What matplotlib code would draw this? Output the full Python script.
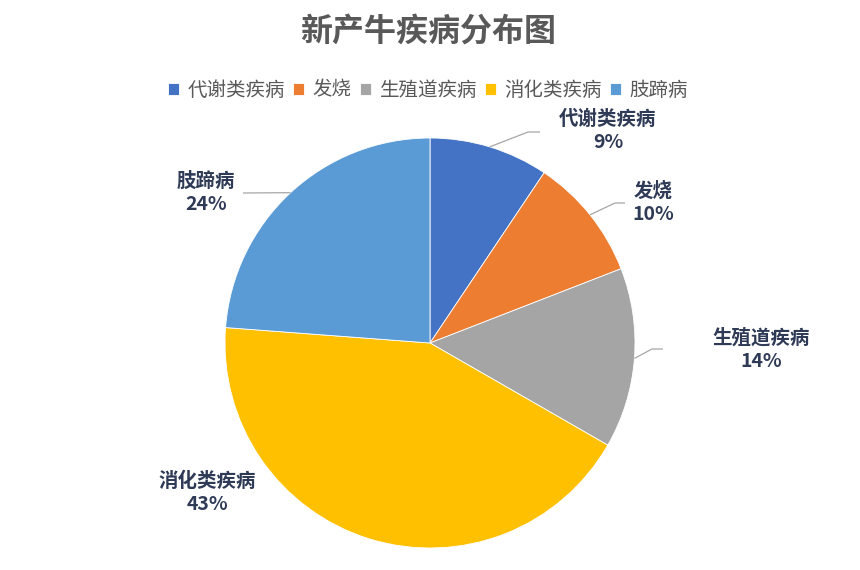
import numpy as np
import matplotlib
matplotlib.use('Agg')
import matplotlib.pyplot as plt

plt.rcParams['font.family'] = ['Noto Sans CJK SC', 'DejaVu Sans']

# data (percent of cases)
categories = ['代谢类疾病', '发烧', '生殖道疾病', '消化类疾病', '肢蹄病']
shares = [9.4, 9.7, 14.2, 42.9, 23.8]
colors = ['#4472C4', '#ED7D31', '#A5A5A5', '#FFC000', '#5B9BD5']

W, H = 860, 570
label_color = '#2E3A56'

fig = plt.figure(figsize=(W / 100, H / 100), dpi=100)
ax = fig.add_axes([0, 0, 1, 1])

cx, cy, r = 430, H - 343, 205
wedges, _ = ax.pie(shares, colors=colors, startangle=90, counterclock=False,
                   radius=r, center=(cx, cy),
                   wedgeprops=dict(edgecolor='white', linewidth=0.6))
ax.set_xlim(0, W)
ax.set_ylim(0, H)
ax.set_aspect('equal')
ax.axis('off')

# label centres and leader elbows (pixel coords from top-left)
label_pos = [(608, 131), (653, 203), (761, 350), (207, 493), (206, 193)]
leaders = [[(528, 132), (540, 132)],
           [(615, 203), (625, 203)],
           [(652, 349), (663, 349)],
           None,
           [(243, 193)]]

total = sum(shares)
for i, w in enumerate(wedges):
    lx, ly = label_pos[i]
    pct = '%d%%' % round(shares[i] / total * 100)
    ax.text(lx, H - ly, categories[i] + '\n' + pct, ha='center', va='center',
            fontsize=14, fontweight='bold', color=label_color, linespacing=1.3)
    if leaders[i] is None:
        continue
    mid = np.deg2rad((w.theta1 + w.theta2) / 2)
    pts = [(cx + r * np.cos(mid), cy + r * np.sin(mid))]
    pts += [(x, H - y) for x, y in leaders[i]]
    xs, ys = zip(*pts)
    ax.plot(xs, ys, color='#A6A6A6', lw=0.9, solid_capstyle='butt')

fig.text(428 / W, 1 - 32 / H, '新产牛疾病分布图', ha='center', va='center',
         fontsize=23, fontweight='bold', color='#595959')

leg = fig.legend(wedges, categories, loc='center', bbox_to_anchor=(428 / W, 1 - 90 / H),
                 ncol=5, frameon=False, fontsize=14, labelcolor='#595959',
                 handlelength=0.57, handleheight=0.57, handletextpad=0.45,
                 columnspacing=0.4, borderaxespad=0)

fig.savefig('out.png', dpi=100)
